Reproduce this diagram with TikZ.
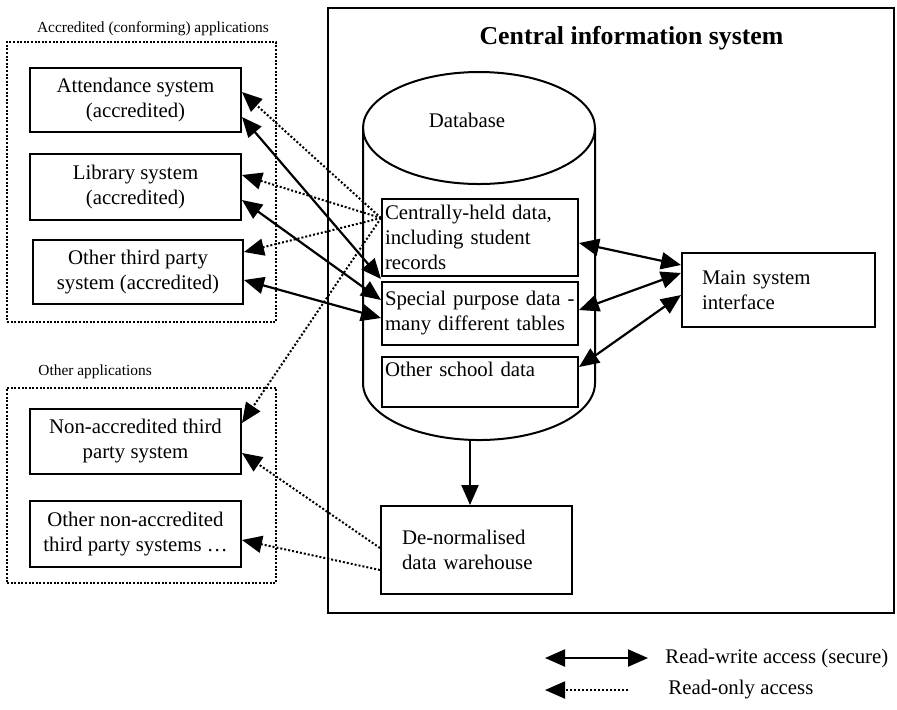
\documentclass[tikz,border=0pt]{standalone}
\usepackage{fontspec}
\setmainfont{Liberation Serif}
\usetikzlibrary{arrows.meta,calc}
\begin{document}
\begin{tikzpicture}[x=0.5pt,y=-0.5pt,
  >={Triangle[length=10pt,width=8.5pt]},
  txt/.style={font=\fontsize{10.4}{12.5}\selectfont},
  box/.style={draw,line width=1pt,txt,align=center,inner sep=1.5pt},
  appbox/.style={box,minimum width=105.5pt,minimum height=32pt},
  databox/.style={box,minimum width=98pt,text width=95pt,align=left},
  grp/.style={draw,line width=1.1pt,dash pattern=on 1pt off 0.8pt,inner sep=0pt},
  rw/.style={<->,line width=1.1pt},
  ro/.style={->,line width=1pt,dash pattern=on 1pt off 1pt},
  small/.style={font=\fontsize{7.7}{9}\selectfont,inner sep=0pt},
  plain/.style={txt,inner sep=0pt}
]
\useasboundingbox (0,0) rectangle (897,709);

% groups
\node[grp,minimum width=134.5pt,minimum height=140pt] (g1) at (141.5,182) {};
\node[small] (g1l) at (153,29) {Accredited (conforming) applications};
\node[grp,minimum width=134.5pt,minimum height=97.5pt] (g2) at (141.5,485.5) {};
\node[small,anchor=west] (g2l) at (38,372) {Other applications};

% application boxes
\node[appbox] (att) at (135.5,100) {Attendance system\\(accredited)};
\node[appbox,minimum height=33pt] (lib) at (135.5,187) {Library system\\(accredited)};
\node[appbox,minimum width=105pt] (oth) at (138,272) {Other third party\\system (accredited)};
\node[appbox,minimum height=32.5pt] (nac) at (135.5,441.5) {Non-accredited third\\party system};
\node[appbox,minimum height=33pt] (onac) at (135.5,534) {Other non-accredited\\third party systems …};

% central system
\node[draw,line width=1.1pt,minimum width=283pt,minimum height=302.5pt,inner sep=0pt] (cis) at (611,310.5) {};
\node[font=\bfseries\fontsize{12.9}{15}\selectfont,inner sep=0pt] (title) at (631.5,38) {Central information system};

% cylinder
\draw[line width=1pt] (479,128) ellipse [x radius=58pt, y radius=28pt];
\draw[line width=1pt] (363,128) -- (363,383) arc[start angle=180,end angle=360,x radius=58pt,y radius=28.5pt] -- (595,128);
\node[plain] (dbl) at (467,120) {Database};

% data boxes
\node[databox,minimum height=38.5pt] (cen) at (480,237.5) {Centrally-held data,\\including student\\records};
\node[databox,minimum height=31.5pt] (spec) at (480,313.5) {Special purpose data -\\many different tables};
\node[databox,minimum height=25pt,text height=8pt,text depth=14pt] (osd) at (480,382) {Other school data};

\node[box,align=left,minimum width=96.5pt,minimum height=37pt,text width=76.5pt,inner xsep=10pt] (msi) at (778.5,290) {Main system\\interface};
\node[box,align=left,minimum width=95.5pt,minimum height=44pt,text width=74.5pt,inner xsep=10.5pt] (wh) at (476.5,550) {De-normalised\\data warehouse};

% database to warehouse
\coordinate (dbbot) at (470,441);
\draw[->,line width=1.1pt] (dbbot) -- (dbbot |- wh.north);

% read-write connectors
\coordinate (cs) at ($(cen.south west)!0.5!(spec.north west)$);
\draw[rw] (att.east |- 0,117) -- (cs);
\draw[rw] (lib.east |- 0,200) -- (spec.west |- 0,300);
\draw[rw] (oth.east |- 0,280) -- (spec.west |- 0,318);
\draw[rw] (cen.east |- 0,243) -- (msi.west |- 0,265);
\draw[rw] (spec.east |- 0,310) -- (msi.west |- 0,273);
\draw[rw] (osd.east |- 0,367) -- (msi.west |- 0,295);

% read-only connectors
\coordinate (src) at (cen.west |- 0,218);
\draw[ro] (src) -- (att.east |- 0,92);
\draw[ro] (src) -- (lib.east |- 0,175);
\draw[ro] (src) -- (oth.east |- 0,252);
\draw[ro] (src) -- (nac.east |- 0,423);
\draw[ro] (wh.west |- 0,548) -- (nac.east |- 0,453);
\draw[ro] (wh.west |- 0,570) -- (onac.east |- 0,540);

% legend
\coordinate (l1a) at (545,658);
\coordinate (l1b) at (648,658);
\draw[rw] (l1a) -- (l1b);
\node[plain,anchor=west] (l1t) at (665,658) {Read-write access (secure)};
\coordinate (l2a) at (628,690);
\coordinate (l2b) at (545,690);
\draw[ro] (l2a) -- (l2b);
\node[plain,anchor=west] (l2t) at (668,690) {Read-only access};
\end{tikzpicture}
\end{document}
